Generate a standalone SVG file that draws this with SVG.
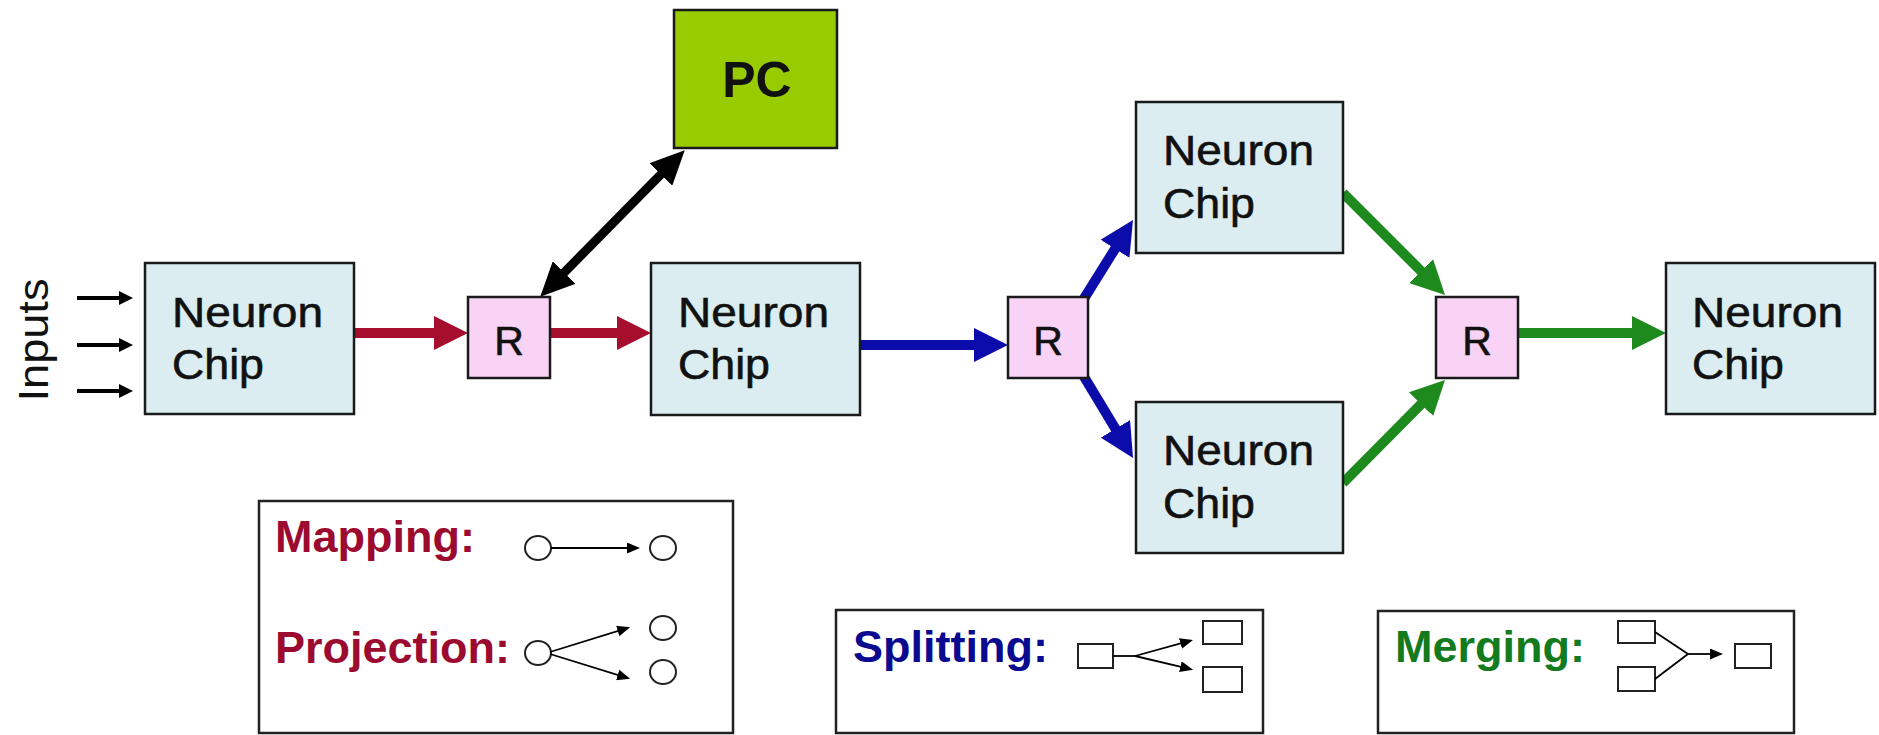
<svg xmlns="http://www.w3.org/2000/svg" width="1879" height="735" viewBox="0 0 1879 735">
<style>
.chip{fill:#dbedf0;stroke:#1a1a1a;stroke-width:2.5}
.router{fill:#f9d3f5;stroke:#1a1a1a;stroke-width:2.5}
.pc{fill:#99cc00;stroke:#1a1a1a;stroke-width:2.5}
.legend{fill:#ffffff;stroke:#222;stroke-width:2.5}
.lbl{font-family:"Liberation Sans",Arial,sans-serif;font-size:43px;fill:#111;stroke:#111;stroke-width:0.6}
.rl{font-family:"Liberation Sans",Arial,sans-serif;font-size:41px;fill:#111;stroke:#111;stroke-width:0.6;text-anchor:middle}
.leg{font-family:"Liberation Sans",Arial,sans-serif;font-size:45px;font-weight:bold}
.red{stroke:#a50e2d;stroke-width:10;fill:none}
.blue{stroke:#0c0cab;stroke-width:10;fill:none}
.green{stroke:#1e8a1e;stroke-width:10;fill:none}
.blk{stroke:#000;stroke-width:9;fill:none}
.inp{stroke:#000;stroke-width:4;fill:none}
.thin{stroke:#000;stroke-width:1.8;fill:none}
.shape{fill:#fff;stroke:#222;stroke-width:2}
</style>
<defs>
<marker id="ahRed" markerUnits="userSpaceOnUse" markerWidth="34" markerHeight="34" refX="13" refY="17" orient="auto"><path d="M0,0 L34,17 L0,34 z" fill="#a50e2d"/></marker>
<marker id="ahBlue" markerUnits="userSpaceOnUse" markerWidth="34" markerHeight="34" refX="13" refY="17" orient="auto"><path d="M0,0 L34,17 L0,34 z" fill="#0c0cab"/></marker>
<marker id="ahGreen" markerUnits="userSpaceOnUse" markerWidth="34" markerHeight="34" refX="13" refY="17" orient="auto"><path d="M0,0 L34,17 L0,34 z" fill="#1e8a1e"/></marker>
<marker id="ahBlk" markerUnits="userSpaceOnUse" markerWidth="34" markerHeight="32" refX="13" refY="16" orient="auto-start-reverse"><path d="M0,0 L34,16 L0,32 z" fill="#000"/></marker>
<marker id="ahIn" markerUnits="userSpaceOnUse" markerWidth="14" markerHeight="14" refX="6" refY="7" orient="auto"><path d="M0,0 L14,7 L0,14 z" fill="#000"/></marker>
<marker id="ahSm" markerUnits="userSpaceOnUse" markerWidth="13" markerHeight="11" refX="4" refY="5.5" orient="auto"><path d="M0,0 L13,5.5 L0,11 z" fill="#000"/></marker>
</defs>

<g id="connectors">
<line class="inp" x1="77" y1="298" x2="125" y2="298" marker-end="url(#ahIn)"/>
<line class="inp" x1="77" y1="345" x2="125" y2="345" marker-end="url(#ahIn)"/>
<line class="inp" x1="77" y1="391" x2="125" y2="391" marker-end="url(#ahIn)"/>
<line class="red" x1="354" y1="333" x2="447" y2="333" marker-end="url(#ahRed)"/>
<line class="red" x1="550" y1="333" x2="630" y2="333" marker-end="url(#ahRed)"/>
<line class="blk" x1="555" y1="281.8" x2="670" y2="165.2" marker-start="url(#ahBlk)" marker-end="url(#ahBlk)"/>
<line class="blue" x1="860" y1="345" x2="987" y2="345" marker-end="url(#ahBlue)"/>
<line class="blue" x1="1080" y1="305" x2="1121.9" y2="237.8" marker-end="url(#ahBlue)"/>
<line class="blue" x1="1080" y1="370" x2="1122.2" y2="440" marker-end="url(#ahBlue)"/>
<line class="green" x1="1343" y1="193" x2="1430.2" y2="280.2" marker-end="url(#ahGreen)"/>
<line class="green" x1="1343" y1="483" x2="1430.2" y2="394.9" marker-end="url(#ahGreen)"/>
<line class="green" x1="1518" y1="333" x2="1645" y2="333" marker-end="url(#ahGreen)"/>
</g>

<g id="inputs-label">
<text font-family="Liberation Sans, Arial, sans-serif" font-size="42" fill="#111" text-anchor="middle" textLength="123" lengthAdjust="spacingAndGlyphs" transform="translate(48,340) rotate(-90)">Inputs</text>
</g>

<g id="chip1">
<rect class="chip" x="145" y="263" width="209" height="151"/>
<text class="lbl" x="172" y="327" textLength="151" lengthAdjust="spacingAndGlyphs">Neuron</text>
<text class="lbl" x="172" y="379" textLength="92" lengthAdjust="spacingAndGlyphs">Chip</text>
</g>
<g id="router1">
<rect class="router" x="468" y="297" width="82" height="81"/>
<text class="rl" x="509" y="355">R</text>
</g>
<g id="pc">
<rect class="pc" x="674" y="10" width="163" height="138"/>
<text x="757" y="97" text-anchor="middle" font-family="Liberation Sans, Arial, sans-serif" font-size="50" font-weight="bold" fill="#111">PC</text>
</g>
<g id="chip2">
<rect class="chip" x="651" y="263" width="209" height="152"/>
<text class="lbl" x="678" y="327" textLength="151" lengthAdjust="spacingAndGlyphs">Neuron</text>
<text class="lbl" x="678" y="379" textLength="92" lengthAdjust="spacingAndGlyphs">Chip</text>
</g>
<g id="router2">
<rect class="router" x="1008" y="297" width="80" height="81"/>
<text class="rl" x="1048" y="355">R</text>
</g>
<g id="chip3">
<rect class="chip" x="1136" y="102" width="207" height="151"/>
<text class="lbl" x="1163" y="165" textLength="151" lengthAdjust="spacingAndGlyphs">Neuron</text>
<text class="lbl" x="1163" y="218" textLength="92" lengthAdjust="spacingAndGlyphs">Chip</text>
</g>
<g id="chip4">
<rect class="chip" x="1136" y="402" width="207" height="151"/>
<text class="lbl" x="1163" y="465" textLength="151" lengthAdjust="spacingAndGlyphs">Neuron</text>
<text class="lbl" x="1163" y="518" textLength="92" lengthAdjust="spacingAndGlyphs">Chip</text>
</g>
<g id="router3">
<rect class="router" x="1436" y="297" width="82" height="81"/>
<text class="rl" x="1477" y="355">R</text>
</g>
<g id="chip5">
<rect class="chip" x="1666" y="263" width="209" height="151"/>
<text class="lbl" x="1692" y="327" textLength="151" lengthAdjust="spacingAndGlyphs">Neuron</text>
<text class="lbl" x="1692" y="379" textLength="92" lengthAdjust="spacingAndGlyphs">Chip</text>
</g>

<g id="legend-mapping">
<rect class="legend" x="259" y="501" width="474" height="232"/>
<text class="leg" x="275" y="552" fill="#9c0a30">Mapping:</text>
<text class="leg" x="275" y="663" fill="#9c0a30">Projection:</text>
<ellipse class="shape" cx="538" cy="548" rx="13" ry="12"/>
<line class="thin" x1="551" y1="548" x2="631" y2="548" marker-end="url(#ahSm)"/>
<ellipse class="shape" cx="663" cy="548" rx="13" ry="12"/>
<ellipse class="shape" cx="538" cy="653" rx="13" ry="12"/>
<line class="thin" x1="550" y1="652" x2="621.5" y2="629.8" marker-end="url(#ahSm)"/>
<line class="thin" x1="550" y1="654" x2="621.5" y2="676.2" marker-end="url(#ahSm)"/>
<ellipse class="shape" cx="663" cy="628" rx="13" ry="12"/>
<ellipse class="shape" cx="663" cy="672" rx="13" ry="12"/>
</g>

<g id="legend-splitting">
<rect class="legend" x="836" y="610" width="427" height="123"/>
<text class="leg" x="853" y="662" fill="#0a0a90">Splitting:</text>
<rect class="shape" x="1078" y="644" width="35" height="24"/>
<line class="thin" x1="1113" y1="656" x2="1135" y2="656"/>
<line class="thin" x1="1135" y1="656" x2="1184.3" y2="642.4" marker-end="url(#ahSm)"/>
<line class="thin" x1="1135" y1="656" x2="1184.3" y2="667.6" marker-end="url(#ahSm)"/>
<rect class="shape" x="1203" y="621" width="39" height="23"/>
<rect class="shape" x="1203" y="667" width="39" height="25"/>
</g>

<g id="legend-merging">
<rect class="legend" x="1378" y="611" width="416" height="122"/>
<text class="leg" x="1395" y="662" fill="#137a1e">Merging:</text>
<rect class="shape" x="1618" y="621" width="37" height="22"/>
<rect class="shape" x="1618" y="667" width="37" height="24"/>
<line class="thin" x1="1655" y1="632" x2="1688" y2="654"/>
<line class="thin" x1="1655" y1="679" x2="1688" y2="654"/>
<line class="thin" x1="1688" y1="654" x2="1714" y2="654" marker-end="url(#ahSm)"/>
<rect class="shape" x="1735" y="644" width="36" height="24"/>
</g>
</svg>
